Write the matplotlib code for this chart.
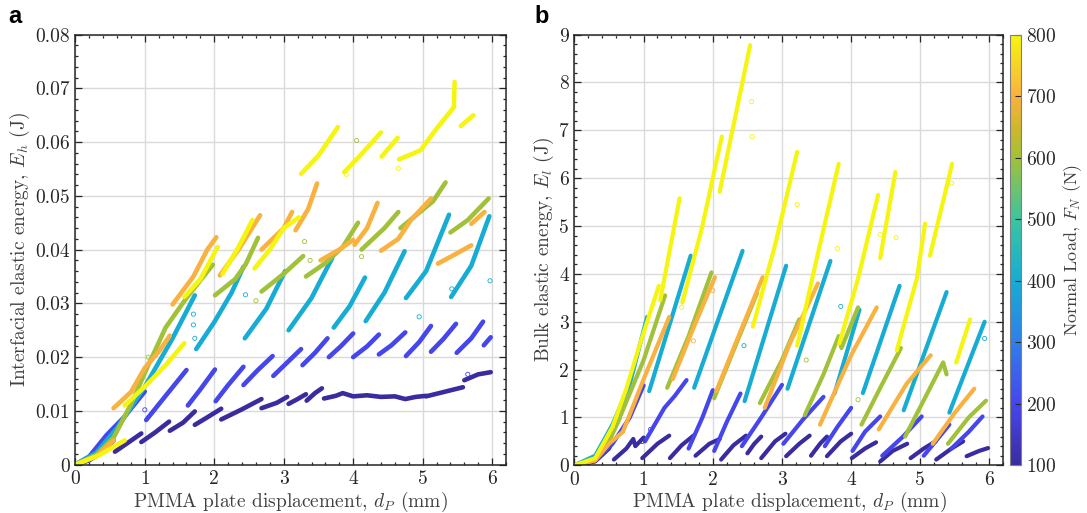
import matplotlib
matplotlib.use('Agg')
import matplotlib.pyplot as plt
from matplotlib.colors import LinearSegmentedColormap, Normalize
from matplotlib.ticker import MultipleLocator, FuncFormatter
import matplotlib.colorbar as mcolorbar

plt.rcParams['font.family'] = 'serif'
plt.rcParams['font.serif'] = ['cmr10']
plt.rcParams['mathtext.fontset'] = 'cm'
plt.rcParams['axes.unicode_minus'] = False
plt.rcParams['axes.formatter.use_mathtext'] = True

# ---------------- data ----------------
LOADS = [100, 200, 400, 600, 700, 800]

# Panel a: interfacial elastic energy (J) vs displacement (mm); each sub-list = one loading segment
A_100 = [
    [(0, 0), (0.2, 0.0008), (0.4, 0.0025), (0.55, 0.0045)],
    [(0.57, 0.0024), (0.75, 0.0040), (0.95, 0.0058)],
    [(0.95, 0.0042), (1.15, 0.0060), (1.35, 0.0080)],
    [(1.36, 0.0063), (1.55, 0.0078), (1.72, 0.0099)],
    [(1.72, 0.0074), (1.9, 0.0088), (2.10, 0.0104)],
    [(2.10, 0.0084), (2.4, 0.0103), (2.68, 0.0122)],
    [(2.68, 0.0105), (2.9, 0.0115), (3.05, 0.0126)],
    [(3.07, 0.0113), (3.2, 0.0122), (3.32, 0.0131)],
    [(3.33, 0.0119), (3.45, 0.0133), (3.55, 0.0142)],
    [(3.58, 0.0123), (3.75, 0.0128), (3.85, 0.0133), (4.0, 0.0127), (4.2, 0.0129),
     (4.4, 0.0126), (4.6, 0.0127), (4.75, 0.0122), (4.9, 0.0126), (5.05, 0.0128)],
    [(5.05, 0.0127), (5.3, 0.0135), (5.58, 0.0144)],
    [(5.60, 0.0157), (5.8, 0.0168), (5.98, 0.0172)],
]
A_200 = [
    [(0, 0), (0.2, 0.0015), (0.45, 0.0055), (0.7, 0.0088), (1.0, 0.0136)],
    [(1.02, 0.0083), (1.3, 0.0128), (1.6, 0.0176)],
    [(1.62, 0.0110), (1.8, 0.0140), (2.01, 0.0177)],
    [(2.02, 0.0118), (2.2, 0.0148), (2.42, 0.0182)],
    [(2.42, 0.0148), (2.62, 0.0175), (2.84, 0.0202)],
    [(2.85, 0.0165), (3.05, 0.0190), (3.25, 0.0215)],
    [(3.27, 0.0185), (3.45, 0.0208), (3.63, 0.0235)],
    [(3.65, 0.0200), (3.82, 0.0220), (4.0, 0.0244)],
    [(4.0, 0.0200), (4.2, 0.0220), (4.37, 0.0242)],
    [(4.37, 0.0205), (4.55, 0.0222), (4.75, 0.0246)],
    [(4.76, 0.0202), (4.95, 0.0228), (5.12, 0.0258)],
    [(5.12, 0.0210), (5.3, 0.0234), (5.48, 0.0262)],
    [(5.49, 0.0208), (5.7, 0.0235), (5.87, 0.0266)],
    [(5.88, 0.0222), (5.98, 0.0237)],
]
A_400 = [
    [(0, 0), (0.3, 0.0022), (0.6, 0.0068), (1.0, 0.0145), (1.4, 0.0235), (1.72, 0.0315)],
    [(1.74, 0.0215), (2.0, 0.0265), (2.25, 0.0320), (2.42, 0.0368)],
    [(2.44, 0.0235), (2.75, 0.0290), (3.02, 0.0360)],
    [(3.07, 0.0250), (3.4, 0.0310), (3.70, 0.0385)],
    [(3.72, 0.0255), (3.95, 0.0295), (4.17, 0.0348)],
    [(4.18, 0.0267), (4.45, 0.0320), (4.74, 0.0397)],
    [(4.76, 0.0310), (5.05, 0.0360), (5.38, 0.0465)],
    [(5.41, 0.0312), (5.7, 0.0370), (5.96, 0.0462)],
]
A_600 = [
    [(0, 0), (0.3, 0.0018), (0.55, 0.0050), (0.8, 0.0112), (1.05, 0.0185), (1.3, 0.0255),
     (1.6, 0.0310), (1.98, 0.0372)],
    [(2.01, 0.0315), (2.3, 0.0345), (2.45, 0.0372), (2.63, 0.0422)],
    [(2.68, 0.0322), (3.0, 0.0355), (3.28, 0.0388)],
    [(3.32, 0.0350), (3.6, 0.0375), (3.85, 0.0405), (4.07, 0.0450)],
    [(4.12, 0.0400), (4.45, 0.0440), (4.65, 0.0470)],
    [(4.68, 0.0440), (5.15, 0.0490), (5.33, 0.0525)],
    [(5.40, 0.0432), (5.65, 0.0455), (5.95, 0.0495)],
]
A_700 = [
    [(0, 0), (0.3, 0.0015), (0.55, 0.0045)],
    [(0.55, 0.0105), (0.8, 0.0135), (1.0, 0.0180), (1.2, 0.0210), (1.36, 0.0240)],
    [(1.40, 0.0298), (1.7, 0.0350), (1.9, 0.0400), (2.03, 0.0423)],
    [(2.08, 0.0352), (2.35, 0.0400), (2.66, 0.0464)],
    [(2.68, 0.0400), (3.0, 0.0440), (3.12, 0.0470)],
    [(3.17, 0.0436), (3.35, 0.0475), (3.48, 0.0523)],
    [(3.53, 0.0380), (3.8, 0.0400), (4.0, 0.0418)],
    [(4.02, 0.0409), (4.2, 0.0440), (4.35, 0.0487)],
    [(4.40, 0.0398), (4.65, 0.0420), (4.83, 0.0455), (5.12, 0.0495)],
    [(5.22, 0.0374), (5.45, 0.0390), (5.70, 0.0408)],
    [(5.70, 0.0448), (5.89, 0.0470)],
]
A_800 = [
    [(0, 0), (0.35, 0.0018), (0.71, 0.0045)],
    [(0.71, 0.0110), (1.0, 0.0145), (1.3, 0.0185), (1.57, 0.0226)],
    [(1.57, 0.0312), (1.8, 0.0345), (2.05, 0.0405)],
    [(2.12, 0.0355), (2.35, 0.0405), (2.55, 0.0455)],
    [(2.58, 0.0365), (2.8, 0.0400), (3.0, 0.0440), (3.22, 0.0460)],
    [(3.25, 0.0541), (3.5, 0.0575), (3.78, 0.0628)],
    [(3.87, 0.0544), (4.1, 0.0575), (4.40, 0.0618)],
    [(4.41, 0.0573), (4.64, 0.0608)],
    [(4.66, 0.0568), (4.85, 0.0578), (4.97, 0.0585), (5.2, 0.0625), (5.45, 0.0665), (5.46, 0.0712)],
    [(5.55, 0.0630), (5.73, 0.0650)],
]

# Panel b: bulk elastic energy (J) vs displacement (mm)
B_100 = [
    [(0, 0), (0.3, 0.08), (0.5, 0.35), (0.55, 0.5)],
    [(0.57, 0.12), (0.75, 0.35), (0.85, 0.55), (0.88, 0.4), (1.0, 0.58)],
    [(0.98, 0.15), (1.2, 0.45), (1.37, 0.62)],
    [(1.38, 0.15), (1.55, 0.42), (1.73, 0.63)],
    [(1.75, 0.2), (1.95, 0.45), (2.1, 0.55)],
    [(2.12, 0.12), (2.3, 0.42), (2.48, 0.62)],
    [(2.50, 0.25), (2.6, 0.45), (2.70, 0.6)],
    [(2.70, 0.15), (2.9, 0.5), (3.05, 0.66)],
    [(3.06, 0.19), (3.25, 0.45), (3.4, 0.62)],
    [(3.42, 0.2), (3.55, 0.45), (3.65, 0.6)],
    [(3.65, 0.19), (3.85, 0.5), (4.0, 0.66)],
    [(4.01, 0.15), (4.2, 0.35), (4.36, 0.48)],
    [(4.42, 0.08), (4.6, 0.3), (4.81, 0.45)],
    [(4.86, 0.15), (5.05, 0.35), (5.22, 0.5)],
    [(5.23, 0.12), (5.45, 0.35), (5.62, 0.5)],
    [(5.67, 0.19), (5.85, 0.3), (5.98, 0.36)],
]
B_200 = [
    [(0, 0), (0.3, 0.1), (0.55, 0.45), (0.8, 1.0), (1.0, 1.67)],
    [(1.02, 0.5), (1.3, 1.2), (1.45, 1.45), (1.62, 1.78)],
    [(1.65, 0.35), (1.85, 1.0), (2.0, 1.57)],
    [(2.02, 0.3), (2.2, 0.9), (2.4, 1.5)],
    [(2.42, 0.4), (2.7, 1.0), (3.0, 1.68)],
    [(3.02, 0.45), (3.3, 0.95), (3.6, 1.43)],
    [(3.62, 0.4), (3.8, 0.8), (4.0, 1.2)],
    [(4.02, 0.3), (4.2, 0.7), (4.42, 1.02)],
    [(4.45, 0.2), (4.75, 0.6), (5.02, 1.02)],
    [(5.05, 0.2), (5.25, 0.55), (5.42, 0.85)],
    [(5.45, 0.35), (5.7, 0.7), (5.9, 1.02)],
]
B_400 = [
    [(0, 0), (0.3, 0.2), (0.55, 0.85), (0.8, 1.7), (1.05, 3.1)],
    [(1.08, 1.55), (1.68, 4.38)],
    [(1.73, 1.62), (2.43, 4.48)],
    [(2.46, 1.34), (3.06, 4.17)],
    [(3.08, 1.6), (3.70, 4.27)],
    [(3.76, 1.5), (4.12, 3.25)],
    [(4.17, 1.51), (4.70, 3.75)],
    [(4.76, 1.15), (5.38, 3.62)],
    [(5.42, 1.1), (5.93, 3.0)],
]
B_600 = [
    [(0, 0), (0.3, 0.12), (0.5, 0.5), (0.66, 1.0)],
    [(0.67, 1.05), (1.0, 2.2), (1.31, 3.55)],
    [(1.34, 1.62), (1.65, 2.7), (1.98, 4.03)],
    [(2.02, 1.4), (2.3, 2.4), (2.64, 3.6)],
    [(2.68, 1.3), (3.0, 2.2), (3.25, 3.05)],
    [(3.33, 1.05), (3.6, 1.9), (3.82, 2.7), (3.86, 2.45), (4.1, 3.3)],
    [(4.15, 0.85), (4.45, 1.7), (4.72, 2.45)],
    [(4.78, 0.6), (5.1, 1.5), (5.33, 2.15), (5.38, 1.9)],
    [(5.40, 0.45), (5.7, 1.0), (5.95, 1.35)],
]
B_700 = [
    [(0, 0), (0.3, 0.1), (0.5, 0.45), (0.7, 0.7)],
    [(0.7, 0.7), (1.0, 1.8), (1.37, 3.1)],
    [(1.42, 1.8), (1.7, 2.8), (2.03, 3.93)],
    [(2.05, 1.55), (2.4, 2.8), (2.72, 3.93)],
    [(2.75, 1.2), (3.1, 2.5), (3.52, 3.8)],
    [(3.55, 0.85), (4.0, 2.3), (4.37, 3.3)],
    [(4.4, 0.75), (4.8, 1.7), (5.15, 2.3)],
    [(5.18, 0.45), (5.5, 1.1), (5.78, 1.6)],
]
B_800 = [
    [(0, 0), (0.3, 0.15), (0.55, 0.8), (0.75, 1.6), (0.95, 2.55), (1.22, 3.75)],
    [(1.24, 3.45), (1.52, 5.58)],
    [(1.56, 3.4), (1.85, 5.0), (2.13, 6.87)],
    [(2.10, 5.72), (2.54, 8.78)],
    [(2.58, 2.9), (2.9, 4.6), (3.22, 6.55)],
    [(3.22, 2.5), (3.5, 4.3), (3.82, 6.3)],
    [(3.83, 2.55), (4.1, 3.9), (4.39, 5.65)],
    [(4.42, 4.33), (4.64, 6.13)],
    [(4.66, 2.4), (4.95, 3.9), (5.07, 5.05)],
    [(5.14, 4.38), (5.46, 6.3)],
    [(5.52, 2.15), (5.72, 3.05)],
]

# scattered isolated points (open circles)
A_OUT_X = [1.0, 1.7, 1.7, 1.72, 2.45, 2.6, 3.3, 3.38, 3.9, 4.05, 4.12, 4.65, 5.97, 5.42, 1.05, 5.65, 4.95]
A_OUT_Y = [0.0102, 0.028, 0.026, 0.0235, 0.0316, 0.0305, 0.0415, 0.038, 0.054, 0.0603, 0.0387, 0.0551, 0.0342, 0.0327, 0.020, 0.0168, 0.0275]
A_OUT_L = [200, 400, 400, 400, 400, 600, 600, 600, 800, 600, 600, 800, 400, 400, 600, 200, 400]
B_OUT_X = [2.56, 2.57, 3.22, 3.8, 4.42, 4.65, 5.45, 1.55, 1.72, 2.0, 2.45, 3.85, 4.1, 0.98, 1.1, 5.93, 3.35]
B_OUT_Y = [7.6, 6.87, 5.45, 4.53, 4.82, 4.76, 5.9, 3.3, 2.6, 3.65, 2.5, 3.32, 1.37, 0.5, 0.75, 2.65, 2.2]
B_OUT_L = [800, 800, 800, 800, 800, 800, 800, 800, 700, 700, 400, 400, 600, 100, 200, 400, 600]

# ---------------- style ----------------
CMAP_COLORS = ['#3a2c9f', '#4646ee', '#2f7fe8', '#17acd3', '#3cc4a0', '#a1c13a', '#cfb72c', '#f9b040', '#f5f50f']
CMAP_POS = [0.0, 1/7, 2/7, 3/7, 4/7, 5/7, 5.5/7, 6/7, 1.0]
cmap = LinearSegmentedColormap.from_list('load', list(zip(CMAP_POS, CMAP_COLORS)))
norm = Normalize(100, 800)

DARK = '#262626'
LBL = '#404040'
fig = plt.figure(figsize=(10.87, 5.13), dpi=100)
ax_a = fig.add_axes([0.0693, 0.0943, 0.3962, 0.8382])
ax_b = fig.add_axes([0.5285, 0.0930, 0.3945, 0.8395])
cax = fig.add_axes([0.9292, 0.0930, 0.0098, 0.8395])


def draw(ax, series, ox, oy, ol, lw):
    for load, segs in zip(LOADS, series):
        c = cmap(norm(load))
        for seg in segs:
            xs = [p[0] for p in seg]
            ys = [p[1] for p in seg]
            ax.plot(xs, ys, color=c, lw=lw, solid_capstyle='round',
                    solid_joinstyle='round', zorder=2)
    ax.scatter(ox, oy, s=9, facecolors='none', edgecolors=[cmap(norm(v)) for v in ol],
               linewidths=0.6, zorder=2)


def style(ax, ymax, ymaj, ymin, fmt, ylabel):
    ax.set_xlim(0, 6.2)
    ax.set_ylim(0, ymax)
    ax.xaxis.set_major_locator(MultipleLocator(1))
    ax.xaxis.set_minor_locator(MultipleLocator(0.2))
    ax.yaxis.set_major_locator(MultipleLocator(ymaj))
    ax.yaxis.set_minor_locator(MultipleLocator(ymin))
    ax.yaxis.set_major_formatter(FuncFormatter(fmt))
    ax.xaxis.set_major_formatter(FuncFormatter(lambda v, p: '%d' % round(v)))
    ax.grid(True, which='major', color='#dadada', lw=1.0)
    ax.set_axisbelow(True)
    ax.tick_params(which='both', direction='in', top=True, right=True, colors=DARK,
                   labelsize=14, width=0.9)
    ax.tick_params(which='major', length=5, pad=4)
    ax.tick_params(which='minor', length=2.5)
    for s in ax.spines.values():
        s.set_color(DARK)
        s.set_linewidth(1.1)
    ax.set_xlabel('PMMA plate displacement, $d_P$ (mm)', fontsize=14, color=LBL, labelpad=1)
    ax.set_ylabel(ylabel, fontsize=14, color=LBL, labelpad=2)


draw(ax_a, [A_100, A_200, A_400, A_600, A_700, A_800], A_OUT_X, A_OUT_Y, A_OUT_L, 3.3)
draw(ax_b, [B_100, B_200, B_400, B_600, B_700, B_800], B_OUT_X, B_OUT_Y, B_OUT_L, 3.0)

style(ax_a, 0.08, 0.01, 0.002, lambda v, p: '0' if abs(v) < 1e-9 else '%.2f' % v,
      'Interfacial elastic energy, $E_h$ (J)')
style(ax_b, 9, 1, 0.2, lambda v, p: '%d' % round(v), 'Bulk elastic energy, $E_l$ (J)')

cb = mcolorbar.ColorbarBase(cax, cmap=cmap, norm=norm, ticks=list(range(100, 801, 100)))
cb.outline.set_edgecolor('#808080')
cb.outline.set_linewidth(0.8)
cax.tick_params(direction='in', length=4, colors=DARK, labelsize=14, width=0.8, pad=4)
cb.set_label('Normal Load, $F_N$ (N)', fontsize=13, color=LBL, labelpad=3)

fig.text(0.0135, 0.968, 'a', fontsize=17, fontweight='bold', family='Liberation Sans', va='center', ha='center')
fig.text(0.4985, 0.968, 'b', fontsize=17, fontweight='bold', family='Liberation Sans', va='center', ha='center')

fig.savefig('out.png', dpi=100)
